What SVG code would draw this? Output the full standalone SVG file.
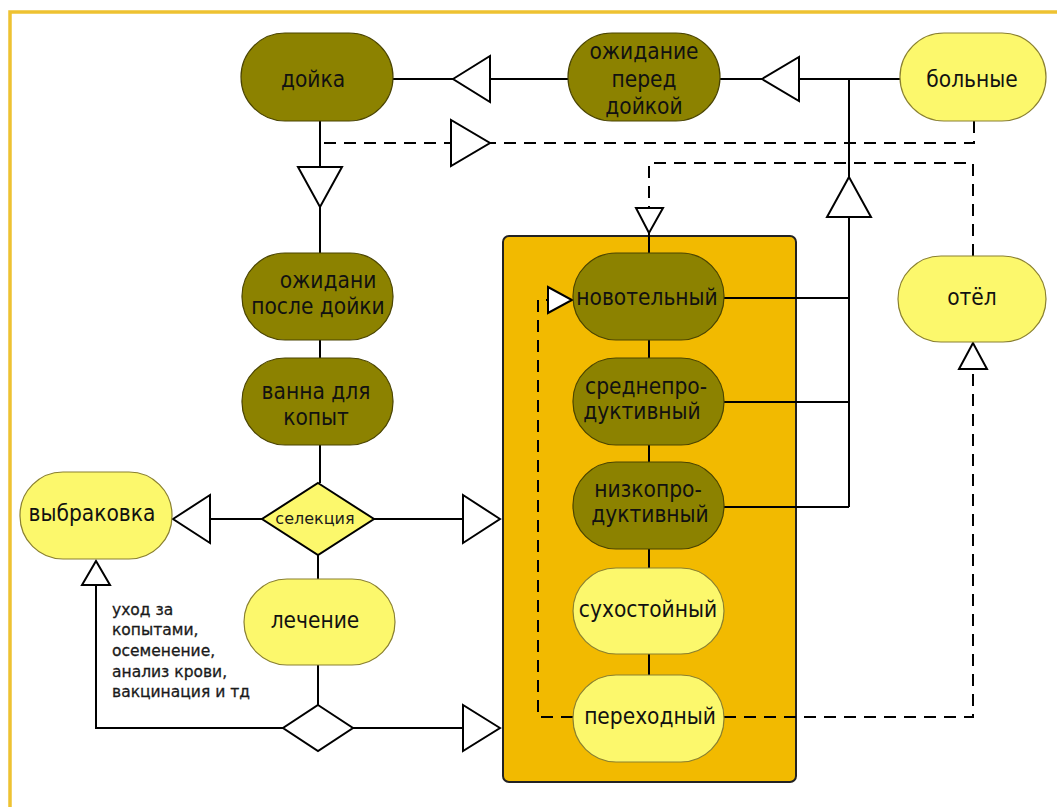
<svg xmlns="http://www.w3.org/2000/svg" width="1057" height="807" viewBox="0 0 1057 807">
<style>
.olive{fill:#8C8200;stroke:#4a4400;stroke-width:1.2}
.yel{fill:#FCF86C;stroke:#8a8030;stroke-width:1.2}
.t{font-family:"DejaVu Sans Condensed","DejaVu Sans",Verdana,sans-serif;font-stretch:condensed;font-size:22.5px;fill:#111;text-anchor:middle}
.s{font-family:"DejaVu Sans",Verdana,sans-serif;font-size:15.5px;fill:#1a1a1a;stroke:#1a1a1a;stroke-width:0.3}
.ln{fill:none;stroke:#000;stroke-width:2}
.dl{fill:none;stroke:#000;stroke-width:2;stroke-dasharray:12 8}
.tri{fill:#fff;stroke:#000;stroke-width:2;stroke-linejoin:miter}
</style>
<rect x="0" y="0" width="1057" height="807" fill="#fff"/>
<rect x="10" y="12" width="1100" height="900" fill="none" stroke="#EEC232" stroke-width="3.5"/>
<g id="group-box">
<rect x="503" y="236" width="293" height="546" rx="6" fill="#F2BA00" stroke="#222" stroke-width="2"/>
</g>
<g id="connectors">
<path class="ln" d="M393 79H453M490 79H568"/>
<polygon class="tri" points="453,79 490,56 490,102"/>
<path class="ln" d="M720 79H762M799 79H900"/>
<polygon class="tri" points="762,79 799,57 799,101"/>
<path class="ln" d="M849 79V507M724 298H849M724 402H849M724 507H849"/>
<polygon class="tri" points="849,177 827,217 871,217"/>
<path class="dl" d="M974 121V143H320"/>
<polygon class="tri" points="451,120 451,166 490,143"/>
<path class="ln" d="M320 121V253"/>
<polygon class="tri" points="298,167 342,167 320,207"/>
<path class="dl" d="M973 256V163H649V208"/>
<polygon class="tri" points="636,208 663,208 649,233"/>
<path class="ln" d="M649 233V253"/>
<path class="ln" d="M320 340V358M320 445V483"/>
<path class="ln" d="M262 519H210M374 519H463"/>
<polygon class="tri" points="173,519 210,495 210,543"/>
<polygon class="tri" points="500,519 463,495 463,543"/>
<path class="ln" d="M318 555V579M318 665V705"/>
<path class="ln" d="M283 728H96V585"/>
<polygon class="tri" points="96,561 82,585 110,585"/>
<path class="ln" d="M353 728H463"/>
<polygon class="tri" points="500,728 463,705 463,751"/>
<path class="ln" d="M649 340V358M649 445V462M649 549V568M649 654V675"/>
<path class="dl" d="M573 717H538V300H548"/>
<polygon class="tri" points="548,287 548,313 572,300"/>
<path class="dl" d="M724 717H973V369"/>
<polygon class="tri" points="973,343 959,369 987,369"/>
</g>
<g id="n-doyka"><rect class="olive" x="241" y="33" width="152" height="88" rx="44"/><text class="t" x="313" y="87">дойка</text></g>
<g id="n-ozhidanie-pered"><rect class="olive" x="568" y="33" width="152" height="88" rx="44"/><text class="t" x="644" y="59">ожидание</text><text class="t" x="644" y="87">перед</text><text class="t" x="644" y="114">дойкой</text></g>
<g id="n-bolnye"><rect class="yel" x="900" y="33" width="146" height="88" rx="44"/><text class="t" x="972" y="87">больные</text></g>
<g id="n-ozhidani-posle"><rect class="olive" x="242" y="253" width="151" height="87" rx="43"/><text class="t" x="328" y="288">ожидани</text><text class="t" x="318" y="314">после дойки</text></g>
<g id="n-vanna"><rect class="olive" x="242" y="358" width="151" height="87" rx="43"/><text class="t" x="316" y="399">ванна для</text><text class="t" x="316" y="425">копыт</text></g>
<g id="n-vybrakovka"><rect class="yel" x="20" y="472" width="152" height="87" rx="43"/><text class="t" x="92" y="521">выбраковка</text></g>
<g id="n-selekciya"><polygon points="318,483 374,519 318,555 262,519" fill="#FCF86C" stroke="#000" stroke-width="2"/><text class="s" x="315" y="524" text-anchor="middle" style="font-size:16px;stroke-width:0">селекция</text></g>
<g id="n-lechenie"><rect class="yel" x="244" y="579" width="151" height="86" rx="43"/><text class="t" x="315" y="628">лечение</text></g>
<g id="n-decision"><polygon points="318,705 353,728 318,751 283,728" fill="#fff" stroke="#000" stroke-width="2"/></g>
<g id="n-note"><text class="s" x="112" y="615">уход за</text><text class="s" x="112" y="635">копытами,</text><text class="s" x="112" y="656">осеменение,</text><text class="s" x="112" y="677">анализ крови,</text><text class="s" x="112" y="697">вакцинация и тд</text></g>
<g id="n-novotelny"><rect class="olive" x="573" y="253" width="151" height="87" rx="43"/><text class="t" x="647" y="305">новотельный</text></g>
<g id="n-sredne"><rect class="olive" x="573" y="358" width="151" height="87" rx="43"/><text class="t" x="646" y="394">среднепро-</text><text class="t" x="642" y="419">дуктивный</text></g>
<g id="n-nizko"><rect class="olive" x="573" y="462" width="151" height="87" rx="43"/><text class="t" x="648" y="497">низкопро-</text><text class="t" x="650" y="522">дуктивный</text></g>
<g id="n-suhostoy"><rect class="yel" x="573" y="568" width="151" height="86" rx="43"/><text class="t" x="648" y="617">сухостойный</text></g>
<g id="n-perehod"><rect class="yel" x="573" y="675" width="151" height="87" rx="43"/><text class="t" x="650" y="724">переходный</text></g>
<g id="n-otel"><rect class="yel" x="898" y="256" width="148" height="86" rx="43"/><text class="t" x="972" y="305">отёл</text></g>
</svg>
